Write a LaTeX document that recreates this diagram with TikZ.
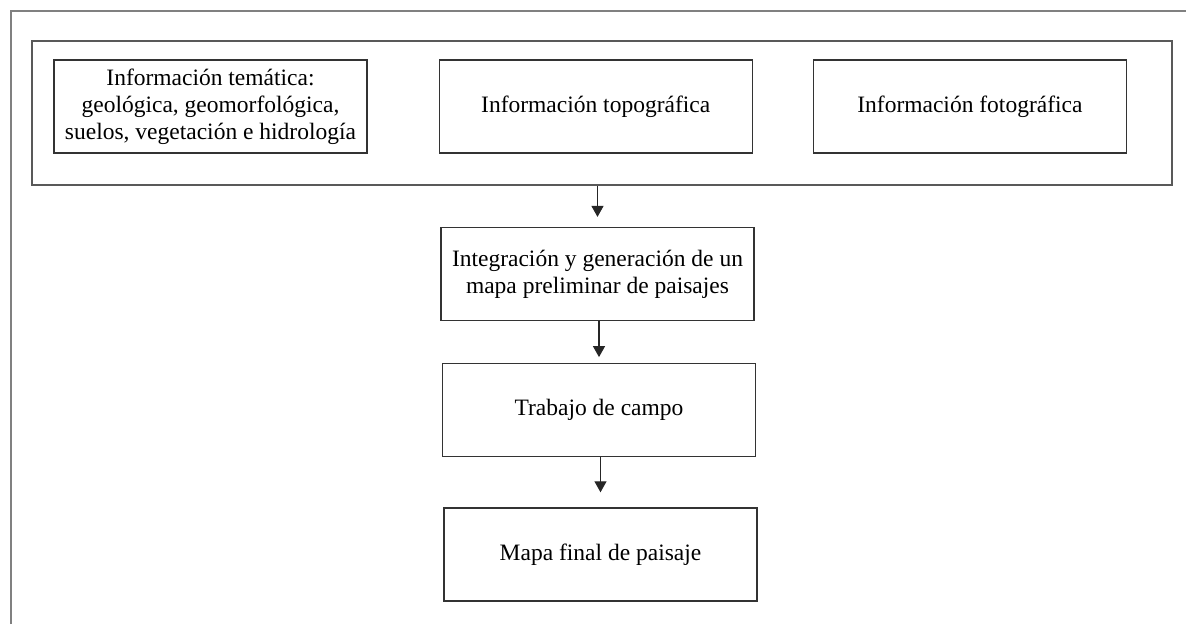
\documentclass[tikz,border=0pt]{standalone}
\usepackage{fontspec}
\setmainfont{Liberation Serif}
\usetikzlibrary{arrows.meta, positioning}

\begin{document}
\begin{tikzpicture}[x=1pt, y=-1pt, >={Triangle[width=12pt, length=11pt]}]

  % Estilos
  \tikzstyle{caja} = [rectangle, draw=black!80, line width=1.2pt, minimum width=313pt, minimum height=93pt, inner sep=0pt, align=center, font=\fontsize{23.5}{27}\selectfont]
  \tikzstyle{flecha} = [->, draw=black!85, line width=1.2pt]

  \useasboundingbox (0,0) rectangle (1186,624);

  % Marco exterior
  \draw[gray, line width=2pt] (11,624) -- (11,11) -- (1186,11);

  % Nodos
  \node[draw=black!65, line width=1.5pt, minimum width=1140pt, minimum height=144pt, inner sep=0pt] (fuentes) at (602,113) {};
  \node[caja] (tematica) at (210.5,106.5) {Información temática:\\geológica, geomorfológica,\\suelos, vegetación e hidrología};
  \node[caja, right=71pt of tematica] (topo) {Información topográfica};
  \node[caja, right=60pt of topo] (foto) {Información fotográfica};
  \node[caja] (integ) at (597.5,274) {Integración y generación de un\\mapa preliminar de paisajes};
  \node[caja, below=42pt of integ, xshift=1.5pt] (campo) {Trabajo de campo};
  \node[caja, below=50pt of campo, xshift=1.5pt] (final) {Mapa final de paisaje};

  % Flechas
  \draw[flecha, shorten >=10pt] (fuentes.south -| integ.north) -- (integ.north);
  \draw[flecha, shorten >=6pt] (integ.south -| campo.north) -- (campo.north);
  \draw[flecha, shorten >=15pt] (campo.south -| final.north) -- (final.north);

\end{tikzpicture}
\end{document}
